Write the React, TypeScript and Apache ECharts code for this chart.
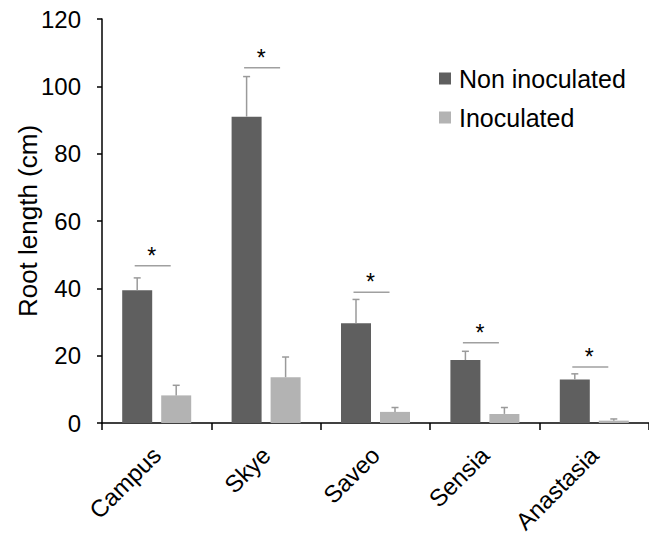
import React, { useEffect, useRef } from "react";
import * as echarts from "echarts";

const categories = ["Campus", "Skye", "Saveo", "Sensia", "Anastasia"];
const nonInoculated = [39.4, 91.0, 29.6, 18.7, 12.9];
const nonInoculatedErr = [3.7, 11.9, 7.1, 2.6, 1.7];
const inoculated = [8.2, 13.6, 3.3, 2.7, 0.7];
const inoculatedErr = [3.0, 6.0, 1.3, 1.9, 0.5];
const sigHeights = [46.7, 105.5, 38.8, 23.8, 16.6];
const sigMarks = ["*", "*", "*", "*", "*"];
const yTicks = { min: 0, max: 120, interval: 20 };

const FONT = "'Liberation Sans', Arial, Helvetica, sans-serif";
const DARK = "#5f5f5f";
const LIGHT = "#b3b3b3";
const ERR = "#9a9a9a";
const BAR_W = 30;
const BAR_OFF = 19.5;

function errorSeries(name: string, values: number[], errs: number[], dx: number) {
  return {
    type: "custom",
    name,
    silent: true,
    z: 3,
    data: values.map((v, i) => [i, v, v + errs[i]]),
    renderItem: (params: any, api: any) => {
      const base = api.coord([api.value(0), api.value(1)]);
      const top = api.coord([api.value(0), api.value(2)]);
      const x = base[0] + dx;
      const style = { stroke: ERR, lineWidth: 1.5 };
      return {
        type: "group",
        children: [
          { type: "line", shape: { x1: x, y1: base[1], x2: x, y2: top[1] }, style },
          { type: "line", shape: { x1: x - 3.5, y1: top[1], x2: x + 3.5, y2: top[1] }, style },
        ],
      };
    },
  };
}

export default function App() {
  const ref = useRef<HTMLDivElement>(null);
  useEffect(() => {
    if (!ref.current) return;
    const chart = echarts.init(ref.current, undefined, { renderer: "svg" });
    chart.setOption({
      animation: false,
      backgroundColor: "#ffffff",
      textStyle: { fontFamily: FONT },
      grid: { left: 102, top: 19, width: 555, bottom: 115, containLabel: false },
      legend: {
        orient: "vertical",
        left: 434,
        top: 61,
        itemWidth: 12,
        itemHeight: 12,
        itemGap: 14,
        icon: "rect",
        data: ["Non inoculated", "Inoculated"],
        textStyle: { fontFamily: FONT, fontSize: 25, color: "#000", padding: [0, 0, 0, 3] },
      },
      xAxis: {
        type: "category",
        data: categories,
        axisLine: { lineStyle: { color: "#000", width: 1.5 } },
        axisTick: { show: true, length: 7, lineStyle: { color: "#000", width: 1.5 } },
        axisLabel: { rotate: 45, fontSize: 24, color: "#000", fontFamily: FONT, margin: 28, interval: 0 },
      },
      yAxis: {
        type: "value",
        min: yTicks.min,
        max: yTicks.max,
        interval: yTicks.interval,
        name: "Root length (cm)",
        nameLocation: "middle",
        nameGap: 61,
        nameMoveOverlap: false,
        nameTextStyle: { fontSize: 26, color: "#000", fontFamily: FONT },
        axisLine: { show: true, lineStyle: { color: "#000", width: 1.5 } },
        axisTick: { show: true, length: 5, lineStyle: { color: "#000", width: 1.5 } },
        axisLabel: { fontSize: 24, color: "#000", fontFamily: FONT, margin: 21 },
        splitLine: { show: false },
      },
      series: [
        {
          type: "bar",
          name: "Non inoculated",
          data: nonInoculated,
          barWidth: BAR_W,
          barGap: "30%",
          itemStyle: { color: DARK },
        },
        {
          type: "bar",
          name: "Inoculated",
          data: inoculated,
          barWidth: BAR_W,
          barGap: "30%",
          itemStyle: { color: LIGHT },
        },
        errorSeries("errNon", nonInoculated, nonInoculatedErr, -BAR_OFF),
        errorSeries("errIno", inoculated, inoculatedErr, BAR_OFF),
        {
          type: "custom",
          name: "sig",
          silent: true,
          z: 4,
          data: sigHeights.map((v, i) => [i, v]),
          renderItem: (params: any, api: any) => {
            const idx = params.dataIndex;
            const p = api.coord([api.value(0), api.value(1)]);
            return {
              type: "group",
              children: [
                {
                  type: "line",
                  shape: { x1: p[0] - 22, y1: p[1], x2: p[0] + 14, y2: p[1] },
                  style: { stroke: "#a0a0a0", lineWidth: 1.5 },
                },
                {
                  type: "text",
                  x: p[0] - 5,
                  y: p[1] - 10,
                  style: {
                    text: sigMarks[idx],
                    fontSize: 23,
                    fontFamily: FONT,
                    fill: "#000",
                    align: "center",
                    verticalAlign: "middle",
                  },
                },
              ],
            };
          },
        },
      ],
    });
    return () => chart.dispose();
  }, []);
  return <div ref={ref} style={{ width: 649, height: 538, position: "absolute", left: 0, top: 0 }} />;
}
